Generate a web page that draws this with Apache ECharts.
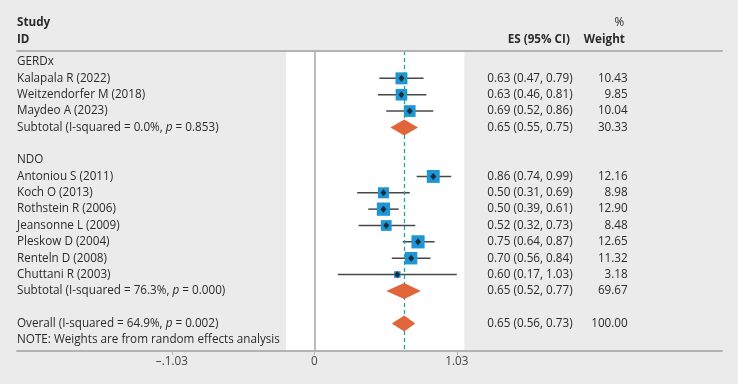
<!DOCTYPE html>
<html><head><meta charset="utf-8">
<script src="https://cdn.jsdelivr.net/npm/echarts@6/dist/echarts.min.js"></script>
<style>html,body{margin:0;padding:0;background:#ebebeb}#c{width:738px;height:384px}</style>
</head><body><div id="c"></div>
<script>
// ---------- data ----------
const groupNames = ['GERDx', 'NDO'];
const gerdStudies = ['Kalapala R (2022)', 'Weitzendorfer M (2018)', 'Maydeo A (2023)'];
const gerdES = [0.63, 0.63, 0.69];
const gerdLo = [0.47, 0.46, 0.52];
const gerdHi = [0.79, 0.81, 0.86];
const gerdW = [10.43, 9.85, 10.04];
const ndoStudies = ['Antoniou S (2011)', 'Koch O (2013)', 'Rothstein R (2006)', 'Jeansonne L (2009)', 'Pleskow D (2004)', 'Renteln D (2008)', 'Chuttani R (2003)'];
const ndoES = [0.86, 0.50, 0.50, 0.52, 0.75, 0.70, 0.60];
const ndoLo = [0.74, 0.31, 0.39, 0.32, 0.64, 0.56, 0.17];
const ndoHi = [0.99, 0.69, 0.61, 0.73, 0.87, 0.84, 1.03];
const ndoW = [12.16, 8.98, 12.90, 8.48, 12.65, 11.32, 3.18];
const subtotalI2 = ['0.0%', '76.3%'];
const subtotalP = ['0.853', '0.000'];
const subtotalES = [0.65, 0.65];
const subtotalLo = [0.55, 0.52];
const subtotalHi = [0.75, 0.77];
const subtotalW = [30.33, 69.67];
const overallI2 = '64.9%';
const overallP = '0.002';
const overallES = 0.65;
const overallLo = 0.56;
const overallHi = 0.73;
const overallW = 100.00;
const noteText = 'NOTE: Weights are from random effects analysis';
const tickValues = [-1.03, 0, 1.03];
const tickLabels = ['\u2013.1.03', '0', '1.03'];

// ---------- layout constants ----------
const X_MIN = -2.15, X_MAX = 2.948;
const COL_LABEL = X_MIN, COL_ES = 1.868, COL_W = 2.266;
const PANEL_L = -0.205, PANEL_R = 1.085;
const FONT = '"Open Sans", sans-serif';
const FS = 11.7;

// ---------- build rows ----------
const rows = [];
let r = 0;
const groups = [
  {name: groupNames[0], s: gerdStudies, es: gerdES, lo: gerdLo, hi: gerdHi, w: gerdW},
  {name: groupNames[1], s: ndoStudies, es: ndoES, lo: ndoLo, hi: ndoHi, w: ndoW}
];
groups.forEach((g, gi) => {
  rows.push({row: r++, type: 'group', label: g.name});
  g.s.forEach((s, i) => rows.push({row: r++, type: 'study', label: s, es: g.es[i], lo: g.lo[i], hi: g.hi[i], w: g.w[i]}));
  rows.push({row: r++, type: 'pooled', label: 'Subtotal (I-squared = ' + subtotalI2[gi] + ', {i|p} = ' + subtotalP[gi] + ')',
    es: subtotalES[gi], lo: subtotalLo[gi], hi: subtotalHi[gi], w: subtotalW[gi]});
  r++; // blank row
});
rows.push({row: r++, type: 'pooled', label: 'Overall (I-squared = ' + overallI2 + ', {i|p} = ' + overallP + ')',
  es: overallES, lo: overallLo, hi: overallHi, w: overallW});
rows.push({row: r++, type: 'note', label: noteText});

const fmtCI = d => d.es.toFixed(2) + ' (' + d.lo.toFixed(2) + ', ' + d.hi.toFixed(2) + ')';

// text items
const texts = [];
texts.push({x: COL_LABEL, row: -2.385, t: 'Study', align: 'left', bold: true});
texts.push({x: COL_LABEL, row: -1.346, t: 'ID', align: 'left', bold: true});
texts.push({x: COL_ES - 0.02, row: -1.346, t: 'ES (95% CI)', align: 'right', bold: true});
texts.push({x: COL_W - 0.02, row: -1.346, t: 'Weight', align: 'right', bold: true});
texts.push({x: COL_W - 0.025, row: -2.385, t: '%', align: 'right', bold: false});
rows.forEach(d => {
  texts.push({x: COL_LABEL, row: d.row, t: d.label, align: 'left'});
  if (d.es !== undefined) {
    texts.push({x: COL_ES, row: d.row, t: fmtCI(d), align: 'right'});
    texts.push({x: COL_W, row: d.row, t: d.w.toFixed(2), align: 'right'});
  }
});

const studies = rows.filter(d => d.type === 'study');
const pooled = rows.filter(d => d.type === 'pooled');

const ROW_PX = 16.35, TOP = 51, H = 300, FIRST_ROW_PX = 62;
const Y_MIN = -(FIRST_ROW_PX - TOP) / ROW_PX;
const Y_MAX = Y_MIN + H / ROW_PX;

const chart = echarts.init(document.getElementById('c'));
chart.setOption({
  backgroundColor: '#ebebeb',
  animation: false,
  grid: {left: 17, right: 16, top: TOP, height: H},
  xAxis: [{
    type: 'value', min: X_MIN, max: X_MAX, position: 'bottom', z: 10,
    splitLine: {show: false},
    axisLine: {show: true, onZero: false, lineStyle: {color: '#b3b3b3', width: 2}},
    axisTick: {show: true, customValues: tickValues, length: 4, inside: false, lineStyle: {color: '#b3b3b3', width: 1}},
    axisLabel: {show: true, customValues: tickValues, margin: 5, color: '#444', fontFamily: FONT, fontSize: FS,
      formatter: v => tickLabels[tickValues.findIndex(t => Math.abs(t - v) < 1e-9)]}
  }, {
    type: 'value', min: X_MIN, max: X_MAX, position: 'top', z: 10,
    splitLine: {show: false},
    axisLine: {show: true, onZero: false, lineStyle: {color: '#b3b3b3', width: 2}},
    axisTick: {show: false}, axisLabel: {show: false}
  }],
  yAxis: {type: 'value', inverse: true, min: Y_MIN, max: Y_MAX, show: false},
  series: [
    {
      type: 'custom', name: 'ci', z: 2, clip: false,
      data: studies.map(d => [d.lo, d.hi, d.row]),
      renderItem: (p, api) => {
        const a = api.coord([api.value(0), api.value(2)]);
        const b = api.coord([api.value(1), api.value(2)]);
        return {type: 'line', shape: {x1: a[0], y1: a[1], x2: b[0], y2: b[1]}, style: {stroke: '#474747', lineWidth: 1.5}};
      },
      markArea: {silent: true, itemStyle: {color: '#ffffff'}, data: [[{xAxis: PANEL_L}, {xAxis: PANEL_R}]]},
      markLine: {
        silent: true, symbol: 'none', label: {show: false},
        data: [
          {xAxis: 0, lineStyle: {color: '#a6a6a6', width: 1.5, type: 'solid'}},
          {xAxis: overallES, lineStyle: {color: '#1aaaa0', width: 1.3, type: [4, 3]}}
        ]
      }
    },
    {
      type: 'custom', name: 'box', z: 3,
      data: studies.map(d => [d.es, d.row, d.w]),
      renderItem: (p, api) => {
        const c = api.coord([api.value(0), api.value(1)]);
        const s = 3.7 * Math.sqrt(api.value(2));
        return {type: 'rect', shape: {x: c[0] - s / 2, y: c[1] - s / 2, width: s, height: s}, style: {fill: '#1e96d6'}};
      }
    },
    {
      type: 'scatter', name: 'point', z: 4, symbol: 'diamond', symbolSize: [6, 7],
      itemStyle: {color: '#151515'},
      data: studies.map(d => [d.es, d.row])
    },
    {
      type: 'custom', name: 'pooled', z: 5,
      data: pooled.map(d => [d.es, d.lo, d.hi, d.row]),
      renderItem: (p, api) => {
        const row = api.value(3);
        const c = api.coord([api.value(0), row]);
        const l = api.coord([api.value(1), row]);
        const rr = api.coord([api.value(2), row]);
        const h = 8;
        return {type: 'polygon', shape: {points: [[l[0], c[1]], [c[0], c[1] - h], [rr[0], c[1]], [c[0], c[1] + h]]},
          style: {fill: '#e0653b'}};
      }
    },
    {
      type: 'custom', name: 'text', z: 6, clip: false, silent: true,
      data: texts.map((t, i) => [t.x, t.row, i]),
      renderItem: (p, api) => {
        const t = texts[api.value(2)];
        const c = api.coord([api.value(0), api.value(1)]);
        return {type: 'text', x: c[0], y: c[1], style: {
          text: t.t, fill: '#2b2b2b', align: t.align, verticalAlign: 'middle',
          font: (t.bold ? 'bold ' : '') + FS + 'px ' + FONT,
          rich: {i: {fontStyle: 'italic', fontFamily: FONT, fontSize: FS, fill: '#2b2b2b'}}
        }};
      }
    }
  ]
});
</script>
</body></html>
